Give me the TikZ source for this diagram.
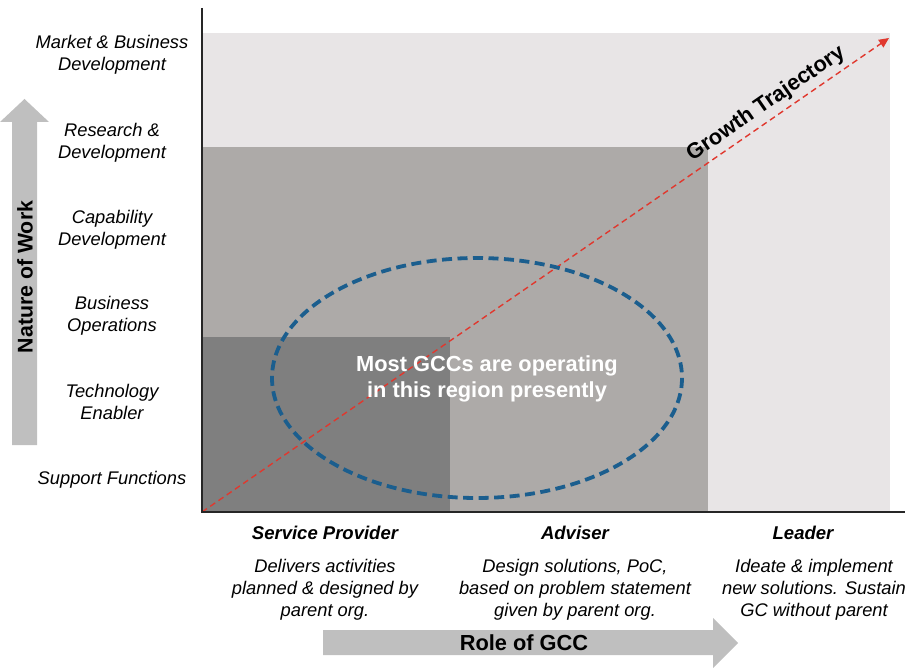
\documentclass[tikz,border=0pt]{standalone}
\usepackage{fontspec}
\setmainfont{Liberation Sans}
\usetikzlibrary{arrows.meta}
\definecolor{bglight}{HTML}{E8E5E6}
\definecolor{bgmid}{HTML}{ADAAA8}
\definecolor{bgdark}{HTML}{7F7F7F}
\definecolor{arrowgrey}{HTML}{BFBFBF}
\definecolor{ellblue}{HTML}{1B5E8E}
\definecolor{trajred}{HTML}{E0382E}
\tikzset{
  ylab/.style={align=center, font=\itshape\fontsize{18.3}{21.8}\selectfont, inner sep=0pt},
  xhead/.style={font=\bfseries\itshape\fontsize{18.5}{22}\selectfont, inner sep=0pt},
  xdesc/.style={align=center, font=\itshape\fontsize{18.3}{22}\selectfont, inner sep=0pt},
  bigbold/.style={font=\bfseries\fontsize{21.8}{26}\selectfont, inner sep=0pt},
  fatarrow/.style={fill=arrowgrey, draw=none},
}
\begin{document}
\begin{tikzpicture}[x=1pt,y=-1pt]
\useasboundingbox (0,0) rectangle (913,668);
% regions
\fill[bglight] (202,33) rectangle (890,512);
\fill[bgmid] (202,147) rectangle (708,512);
\fill[bgdark] (202,337) rectangle (450,512);
% trajectory
\coordinate (origin) at (202,512);
\coordinate (tip) at (889,38);
\draw[trajred, line width=1.4pt, dash pattern=on 6pt off 4pt, -{Triangle[length=10pt,width=9pt]}] (origin) -- (tip);
\node[bigbold, rotate=34.6] (growth) at (766,104) {Growth Trajectory};
% ellipse
\draw[ellblue, line width=3.8pt, dash pattern=on 10pt off 5.5pt] (477,378) ellipse [x radius=205, y radius=120];
\node[bigbold, text=white, align=center] (most) at (487,379) {Most GCCs are operating\\in this region presently};
% axes
\draw[black!85, line width=1.6pt] (202,8) -- (202,512) -- (905,512);
% left arrow
\fill[fatarrow] (12,445) -- (12,122) -- (0,122) -- (24.5,99) -- (49,122) -- (37,122) -- (37,445) -- cycle;
\node[bigbold, rotate=90, font=\bfseries\fontsize{21.3}{25}\selectfont] (now) at (25,277) {Nature of Work};
% bottom arrow
\fill[fatarrow] (323,630) -- (713,630) -- (713,618) -- (738,643) -- (713,668) -- (713,655) -- (323,655) -- cycle;
\node[bigbold] (role) at (524,643) {Role of GCC};
% y labels
\node[ylab] (l6) at (112,55) {Market \& Business\\Development};
\node[ylab] (l5) at (112,143) {Research \&\\Development};
\node[ylab] (l4) at (112,230) {Capability\\Development};
\node[ylab] (l3) at (112,316) {Business\\Operations};
\node[ylab] (l2) at (112,402) {Technology\\Enabler};
\node[ylab] (l1) at (112,480) {Support Functions};
% x labels
\node[xhead] (sp) at (325,533) {Service Provider};
\node[xhead] (ad) at (575,533) {Adviser};
\node[xhead] (le) at (803,533) {Leader};
\node[xdesc] (spd) at (325,590) {Delivers activities\\planned \& designed by\\parent org.};
\node[xdesc] (add) at (575,590) {Design solutions, PoC,\\based on problem statement\\given by parent org.};
\node[xdesc] (led) at (814,590) {Ideate \& implement\\new solutions. Sustain\\GC without parent};
\end{tikzpicture}
\end{document}
